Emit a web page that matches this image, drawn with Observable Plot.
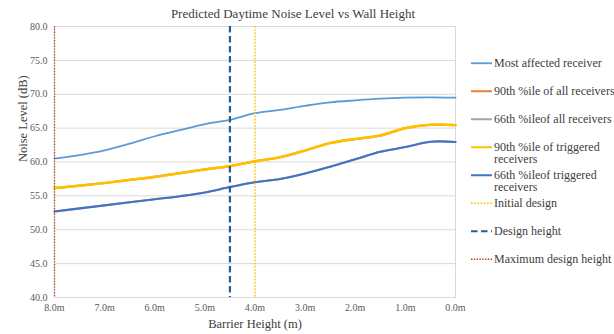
<!DOCTYPE html>
<html><head><meta charset="utf-8">
<script src="https://cdn.jsdelivr.net/npm/d3@7"></script>
<script src="https://cdn.jsdelivr.net/npm/@observablehq/plot@0.6"></script>
<style>
body{margin:0;background:#fff;font-family:"Liberation Serif","Times New Roman",serif;}
#wrap{position:relative;width:614px;height:334px;overflow:hidden;background:#fff}
#title{position:absolute;left:0;width:586px;top:6px;text-align:center;font-size:13px;line-height:16px;color:#404040}
#chart{position:absolute;left:0;top:18px}
#chart svg, #chart svg text{font-family:"Liberation Serif","Times New Roman",serif !important}
#legend{position:absolute;left:471px;top:56.5px}
.item{display:flex;align-items:flex-start;font-size:12px;line-height:12.5px;color:#404040;height:28.1px}
.item svg{flex:none;margin-right:2px}
.item span{width:122px}
</style></head><body>
<div id="wrap"><div id="title">Predicted Daytime Noise Level vs Wall Height</div><div id="chart"></div><div id="legend"></div></div>
<script>
// ---- data ----
const heights = [8, 7.5, 7, 6.5, 6, 5.5, 5, 4.5, 4, 3.5, 3, 2.5, 2, 1.5, 1, 0.5, 0];
const mostAffected   = [60.5, 61.0, 61.7, 62.7, 63.8, 64.7, 65.6, 66.2, 67.2, 67.7, 68.3, 68.8, 69.1, 69.35, 69.5, 69.55, 69.5];
const p90All         = [56.15, 56.5, 56.9, 57.35, 57.8, 58.35, 58.9, 59.4, 60.1, 60.7, 61.7, 62.8, 63.4, 63.9, 65.0, 65.5, 65.45];
const p66All         = [52.7, 53.15, 53.6, 54.05, 54.5, 54.95, 55.5, 56.3, 57.0, 57.5, 58.3, 59.3, 60.4, 61.5, 62.2, 63.0, 62.95];
const p90Triggered   = [56.15, 56.5, 56.9, 57.35, 57.8, 58.35, 58.9, 59.4, 60.1, 60.7, 61.7, 62.8, 63.4, 63.9, 65.0, 65.5, 65.45];
const p66Triggered   = [52.7, 53.15, 53.6, 54.05, 54.5, 54.95, 55.5, 56.3, 57.0, 57.5, 58.3, 59.3, 60.4, 61.5, 62.2, 63.0, 62.95];
const seriesNames = ["Most affected receiver", "90th %ile of all receivers", "66th %ileof all receivers", "90th %ile of triggered receivers", "66th %ileof triggered receivers"];
const seriesValues = [mostAffected, p90All, p66All, p90Triggered, p66Triggered];
const refNames = ["Initial design", "Design height", "Maximum design height"];
const refHeights = [4.0, 4.5, 8.0];
const xTicks = [8, 7, 6, 5, 4, 3, 2, 1, 0];
const yTicks = [40, 45, 50, 55, 60, 65, 70, 75, 80];

// ---- styles ----
const FONT = "Liberation Serif";
const seriesStyle = [
  {stroke: "#5B9BD5", strokeWidth: 1.8},
  {stroke: "#ED7D31", strokeWidth: 2.2},
  {stroke: "#A5A5A5", strokeWidth: 2},
  {stroke: "#FFC000", strokeWidth: 2.6},
  {stroke: "#4472C4", strokeWidth: 2.1}
];
const refStyle = [
  {stroke: "#FFC000", strokeWidth: 1.5, strokeDasharray: "1.6,1.6"},
  {stroke: "#255E91", strokeWidth: 2.2, strokeDasharray: "6.5,3.5"},
  {stroke: "#B3451B", strokeWidth: 1.3, strokeDasharray: "1.4,1.4"}
];

const lineMarks = seriesNames.map((name, k) =>
  Plot.line(heights.map((h, i) => ({h, v: seriesValues[k][i], name})),
    {x: "h", y: "v", curve: "catmull-rom", ...seriesStyle[k]}));
const ruleMarks = refNames.map((name, k) =>
  Plot.ruleX([refHeights[k]], {...refStyle[k]}));

const chart = Plot.plot({
  width: 480, height: 316,
  marginTop: 8, marginLeft: 54, marginRight: 25, marginBottom: 37,
  style: {fontFamily: FONT, background: "transparent", overflow: "visible"},
  x: {domain: [8, 0]},
  y: {domain: [40, 80]},
  marks: [
    Plot.gridY(yTicks, {stroke: "#d9d9d9", strokeOpacity: 1}),
    Plot.frame({stroke: "#d9d9d9"}),
    Plot.axisX(xTicks, {tickSize: 0, tickPadding: 6, fontSize: 10, fontFamily: FONT, fill: "#595959", tickFormat: d => d.toFixed(1) + "m", label: null}),
    Plot.axisY(yTicks, {tickSize: 0, tickPadding: 7, fontSize: 10, fontFamily: FONT, fill: "#595959", tickFormat: d => d.toFixed(1), label: null}),
    Plot.text(["Barrier Height (m)"], {frameAnchor: "bottom", dy: 26, fontSize: 12.5, fontFamily: FONT, fill: "#404040", lineAnchor: "middle"}),
    Plot.text(["Noise Level (dB)"], {frameAnchor: "left", dx: -32, rotate: -90, fontSize: 12.5, fontFamily: FONT, fill: "#404040", lineAnchor: "middle"}),
    ...lineMarks,
    ...ruleMarks
  ]
});
document.getElementById("chart").appendChild(chart);

// ---- legend ----
const legend = document.getElementById("legend");
const entries = [
  ...seriesNames.map((n, k) => ({name: n, style: seriesStyle[k]})),
  ...refNames.map((n, k) => ({name: n, style: refStyle[k]}))
];
for (const e of entries) {
  const div = document.createElement("div");
  div.className = "item";
  const w = Math.min(e.style.strokeWidth, 2);
  div.innerHTML = `<svg width="21" height="12.5"><line x1="0" x2="21" y1="6.25" y2="6.25" stroke="${e.style.stroke}" stroke-width="${w}" ${e.style.strokeDasharray ? `stroke-dasharray="${e.style.strokeDasharray}"` : ""}/></svg><span></span>`;
  div.querySelector("span").textContent = e.name;
  legend.appendChild(div);
}
</script>
</body></html>
